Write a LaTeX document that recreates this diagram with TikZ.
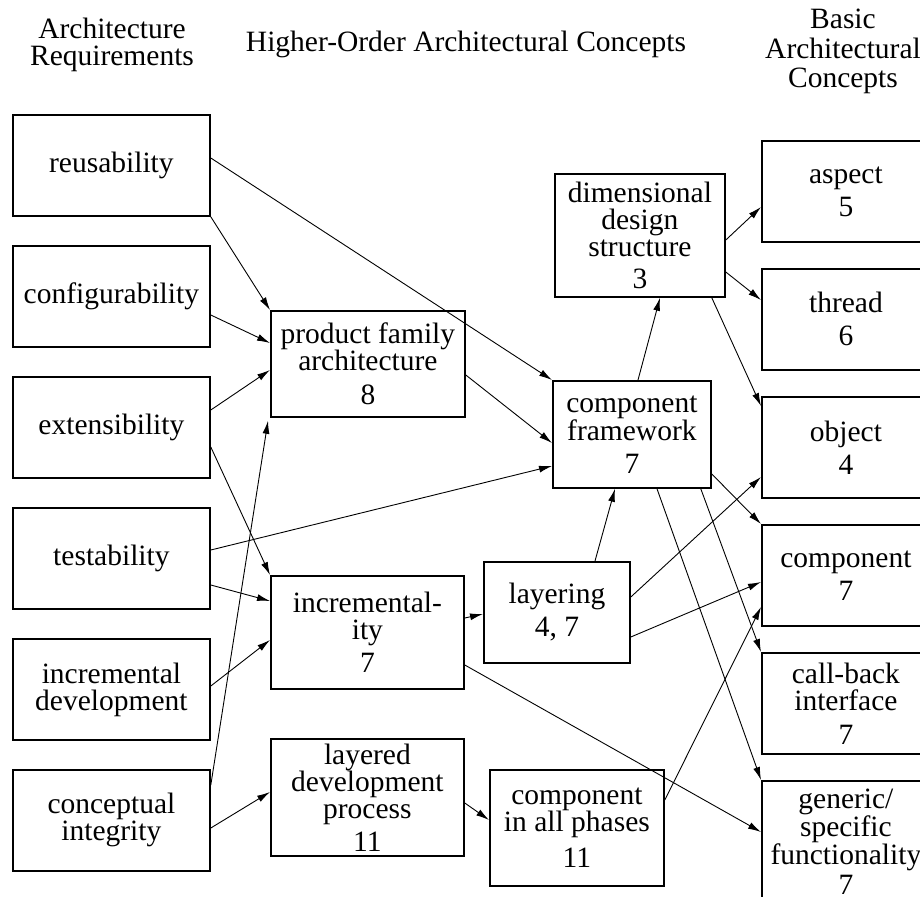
\documentclass[tikz,border=0pt]{standalone}
\usepackage{fontspec}
\setmainfont{Liberation Serif}
\usetikzlibrary{arrows.meta}

\tikzset{
  box/.style={draw, line width=1.8pt, anchor=north west, inner sep=0pt, align=center,
    font=\fontsize{29.5}{27}\selectfont},
  reqbox/.style={box, minimum width=197pt, minimum height=101pt},
  basicbox/.style={box, minimum width=168pt, minimum height=101pt},
  head/.style={inner sep=0pt, align=center},
  arr/.style={-{Latex[length=13pt,width=7pt]}, line width=0.9pt}
}

\begin{document}
\begin{tikzpicture}[x=1pt, y=-1pt]
\clip (0,0) rectangle (920,896);
% column headings
\node[head, anchor=north, font=\fontsize{29.5}{27}\selectfont] (t1) at (112,18) {Architecture\\Requirements};
\node[head, anchor=base, font=\fontsize{29.5}{27}\selectfont] (t2) at (466,52) {Higher-Order Architectural Concepts};
\node[head, anchor=north, font=\fontsize{29.5}{29.5}\selectfont] (t3) at (843,9) {Basic\\Architectural\\Concepts};

% requirements
\node[reqbox] (r1) at (12,114) {reusability};
\node[reqbox] (r2) at (12,245) {configurability};
\node[reqbox] (r3) at (12,376) {extensibility};
\node[reqbox] (r4) at (12,507) {testability};
\node[reqbox] (r5) at (12,638) {incremental\\development};
\node[reqbox] (r6) at (12,769) {conceptual\\integrity};

% higher-order concepts
\node[box, minimum width=194pt, minimum height=106pt] (h1) at (270,310) {product family\\architecture\\[7pt]8};
\node[box, minimum width=193pt, minimum height=113pt] (h2) at (270,575) {incremental-\\ity\\[6pt]7};
\node[box, minimum width=193pt, minimum height=117pt] (h3) at (270,738) {layered\\development\\process\\[6pt]11};
\node[box, minimum width=158pt, minimum height=107pt] (h4) at (552,380) {component\\framework\\[6pt]7};
\node[box, minimum width=170pt, minimum height=123pt] (h5) at (554,173) {dimensional\\design\\structure\\[5pt]3};
\node[box, minimum width=146pt, minimum height=101pt] (h6) at (483,561) {layering\\[6pt]4, 7};
\node[box, minimum width=174pt, minimum height=116pt] (h7) at (489,769) {component\\in all phases\\[9pt]11};

% basic concepts
\node[basicbox] (b1) at (761,140) {aspect\\[6pt]5};
\node[basicbox] (b2) at (761,268) {thread\\[6pt]6};
\node[basicbox] (b3) at (761,396) {object\\[6pt]4};
\node[basicbox] (b4) at (761,524) {component\\[6pt]7};
\node[basicbox] (b5) at (761,652) {call-back\\interface\\[7pt]7};
\node[basicbox, minimum height=122pt, font=\fontsize{29.5}{24.5}\selectfont] (b6) at (761,780) {generic/\\specific\\functionality\\[3pt]7};

% requirements -> concepts
\draw[arr] ([yshift=-44pt]r1.north east) -- (h4.north west);
\draw[arr] (r1.south east) -- (h1.north west);
\draw[arr] ([yshift=-70pt]r2.north east) -- ([yshift=-33pt]h1.north west);
\draw[arr] ([yshift=-34pt]r3.north east) -- ([yshift=-60pt]h1.north west);
\draw[arr] ([yshift=-71pt]r3.north east) -- (h2.north west);
\draw[arr] ([yshift=-43pt]r4.north east) -- ([yshift=-86pt]h4.north west);
\draw[arr] ([yshift=-78pt]r4.north east) -- ([yshift=-26pt]h2.north west);
\draw[arr] ([yshift=-48pt]r5.north east) -- ([yshift=-65pt]h2.north west);
\draw[arr] ([yshift=-16pt]r6.north east) -- ([shift={(-2pt,-3pt)}]h1.south west);
\draw[arr] ([yshift=-59pt]r6.north east) -- ([yshift=-54pt]h3.north west);

% among higher-order concepts
\draw[arr] ([yshift=-65pt]h1.north east) -- ([yshift=-63pt]h4.north west);
\draw[arr] ([yshift=-43pt]h2.north east) -- ([yshift=-53pt]h6.north west);
\draw[arr] ([xshift=112pt]h6.north west) -- ([xshift=63pt]h4.south west);
\draw[arr] ([xshift=86pt]h4.north west) -- ([xshift=106pt]h5.south west);
\draw[arr] ([yshift=-65pt]h3.north east) -- ([yshift=-51pt]h7.north west);

% to basic concepts
\draw[arr] ([yshift=-67pt]h5.north east) -- ([yshift=-67pt]b1.north west);
\draw[arr] ([yshift=-99pt]h5.north east) -- ([yshift=-32pt]b2.north west);
\draw[arr] ([xshift=-14pt]h5.south east) -- ([yshift=-10pt]b3.north west);
\draw[arr] ([yshift=-36pt]h6.north east) -- ([yshift=-81pt]b3.north west);
\draw[arr] ([yshift=-76pt]h6.north east) -- ([yshift=-58pt]b4.north west);
\draw[arr] ([yshift=-94pt]h4.north east) -- (b4.north west);
\draw[arr] ([xshift=-11pt]h4.south east) -- (b5.north west);
\draw[arr] ([xshift=105pt]h4.south west) -- (b6.north west);
\draw[arr] ([yshift=-31pt]h7.north east) -- ([yshift=-83pt]b4.north west);
\draw[arr] ([yshift=-90pt]h2.north east) -- ([yshift=-52pt]b6.north west);
\end{tikzpicture}
\end{document}
